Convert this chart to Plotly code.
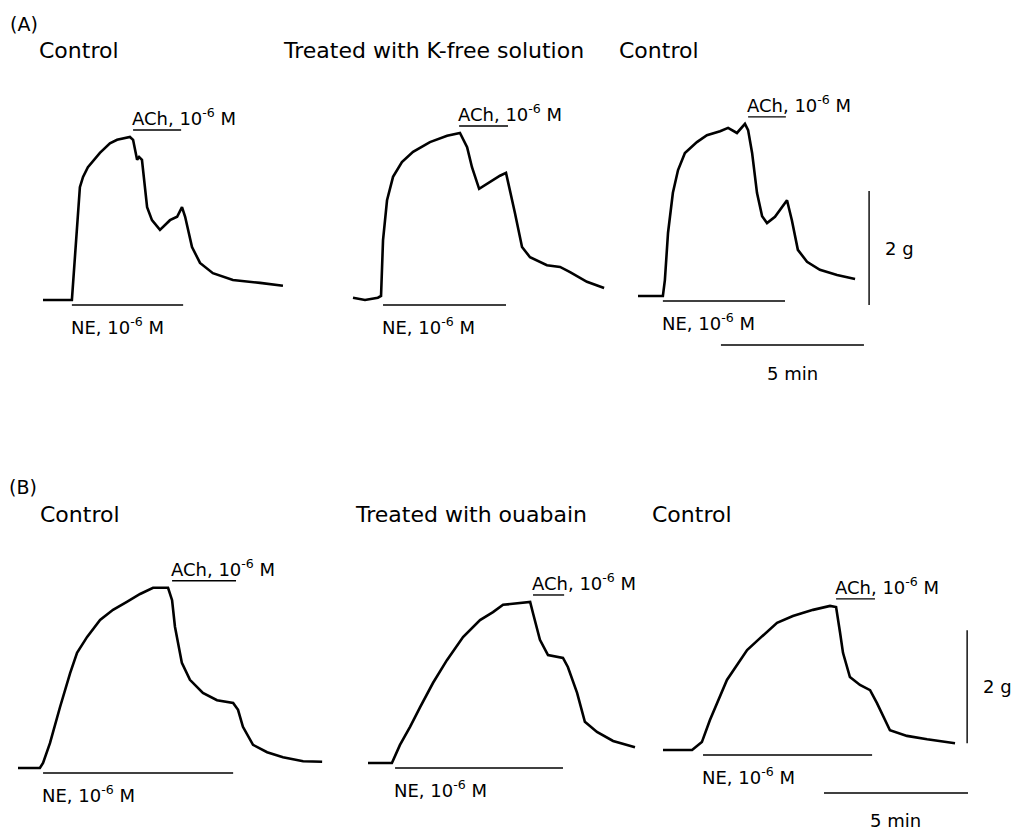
import plotly.graph_objects as go

# ---------------- data (time in min, tension in g above baseline) ----------------
A1_time = [0, 1.01, 1.29, 1.40, 1.57, 1.99, 2.34, 2.59, 3.04, 3.15, 3.29, 3.36, 3.46, 3.64, 3.81,
           4.09, 4.44, 4.69, 4.86, 4.97, 5.21, 5.49, 5.94, 6.64, 7.59, 8.39]
A1_tension = [0, 0, 1.98, 2.16, 2.33, 2.58, 2.75, 2.81, 2.86, 2.81, 2.46, 2.51, 2.46, 1.63, 1.40,
              1.23, 1.40, 1.46, 1.63, 1.46, 0.93, 0.65, 0.47, 0.35, 0.30, 0.25]
A1_NE = [1.01, 4.90]
A1_ACh = [3.15, 4.83]

A2_time = [0, 0.42, 0.87, 0.98, 1.05, 1.19, 1.40, 1.71, 2.10, 2.69, 3.29, 3.74, 3.99, 4.16, 4.41,
           4.79, 5.14, 5.35, 5.49, 5.66, 5.91, 6.19, 6.78, 7.24, 7.59, 8.18, 8.78]
A2_tension = [0.04, 0, 0.04, 0.07, 1.05, 1.75, 2.16, 2.42, 2.60, 2.77, 2.88, 2.93, 2.68, 2.33, 1.95,
              2.07, 2.18, 2.23, 1.93, 1.53, 0.93, 0.75, 0.61, 0.58, 0.49, 0.32, 0.21]
A2_NE = [1.05, 5.35]
A2_ACh = [3.71, 5.42]

A3_time = [0, 0.87, 0.94, 1.05, 1.22, 1.40, 1.64, 2.06, 2.41, 2.87, 3.15, 3.46, 3.74, 3.85, 3.99,
           4.16, 4.34, 4.51, 4.79, 5.21, 5.38, 5.59, 5.91, 6.36, 6.96, 7.59]
A3_tension = [0, 0, 0.28, 1.11, 1.81, 2.21, 2.51, 2.70, 2.82, 2.89, 2.95, 2.86, 3.02, 2.91, 2.51,
              1.81, 1.40, 1.28, 1.39, 1.68, 1.33, 0.81, 0.60, 0.46, 0.37, 0.30]
A3_NE = [0.87, 5.14]
A3_ACh = [3.85, 5.17]

B1_time = [0, 0.76, 0.87, 1.11, 1.46, 1.81, 2.05, 2.40, 2.85, 3.30, 3.78, 4.24, 4.69, 5.21, 5.35,
           5.45, 5.69, 5.97, 6.42, 6.91, 7.47, 7.64, 7.81, 8.16, 8.65, 9.20, 9.90, 10.56]
B1_tension = [0, 0, 0.09, 0.44, 1.08, 1.68, 2.04, 2.32, 2.62, 2.80, 2.94, 3.08, 3.19, 3.19, 2.97,
              2.50, 1.86, 1.56, 1.33, 1.20, 1.15, 1.03, 0.73, 0.41, 0.28, 0.19, 0.12, 0.11]
B1_NE = [0.87, 7.47]
B1_ACh = [5.35, 7.57]

B2_time = [0, 0.83, 1.11, 1.46, 1.81, 2.26, 2.74, 3.30, 3.89, 4.34, 4.69, 5.17, 5.63, 5.73, 5.97,
           6.25, 6.77, 6.94, 7.26, 7.53, 7.95, 8.51, 9.27]
B2_tension = [0, 0, 0.32, 0.64, 0.99, 1.42, 1.82, 2.23, 2.53, 2.67, 2.80, 2.83, 2.85, 2.65, 2.18,
              1.91, 1.86, 1.70, 1.24, 0.73, 0.55, 0.39, 0.28]
B2_NE = [0.94, 6.77]
B2_ACh = [5.73, 6.81]

B3_time = [0, 1.01, 1.35, 1.63, 2.22, 2.92, 3.37, 3.96, 4.51, 5.21, 5.80, 6.01, 6.15, 6.25, 6.49,
           6.84, 7.19, 7.43, 7.88, 8.47, 9.17, 10.14]
B3_tension = [0, 0, 0.14, 0.53, 1.24, 1.77, 1.98, 2.25, 2.37, 2.48, 2.55, 2.53, 2.07, 1.72, 1.29,
              1.15, 1.06, 0.83, 0.35, 0.25, 0.19, 0.12]
B3_NE = [1.39, 7.26]
B3_ACh = [6.01, 7.36]

SCALE_G = 2      # vertical calibration bar (g)
SCALE_MIN = 5    # horizontal calibration bar (min)

NE_LABEL = "NE, 10<sup>-6</sup> M"
ACH_LABEL = "ACh, 10<sup>-6</sup> M"
PANEL_LETTERS = ["(A)", "(B)"]
A_TITLES = ["Control", "Treated with K-free solution", "Control"]
B_TITLES = ["Control", "Treated with ouabain", "Control"]

# ---------------- layout ----------------
W, H = 1018, 831
FONT = "DejaVu Sans"
BIG, SMALL = 22, 18
TRACE_W, BAR_W = 2.6, 1.4

# placement of each trace: pixel origin (start of record, baseline) and px per min / px per g
panels = [
    (A1_time, A1_tension, A1_NE, A1_ACh, (43, 300), (28.6, 57.0)),
    (A2_time, A2_tension, A2_NE, A2_ACh, (353, 300), (28.6, 57.0)),
    (A3_time, A3_tension, A3_NE, A3_ACh, (638, 296), (28.6, 57.0)),
    (B1_time, B1_tension, B1_NE, B1_ACh, (18, 768), (28.8, 56.5)),
    (B2_time, B2_tension, B2_NE, B2_ACh, (368, 763), (28.8, 56.5)),
    (B3_time, B3_tension, B3_NE, B3_ACh, (663, 750), (28.8, 56.5)),
]

fig = go.Figure()
shapes, annotations = [], []
layout_axes = {}

for k, (t, g, ne, ach, (x0, y0), (ppm, ppg)) in enumerate(panels, start=1):
    xa, ya = f"x{k}" if k > 1 else "x", f"y{k}" if k > 1 else "y"
    fig.add_trace(go.Scatter(x=t, y=g, mode="lines", xaxis=xa, yaxis=ya,
                             line=dict(color="black", width=TRACE_W), showlegend=False,
                             hoverinfo="skip"))
    layout_axes[f"xaxis{k if k > 1 else ''}"] = dict(
        domain=[0, 1], range=[-x0 / ppm, (W - x0) / ppm], visible=False, fixedrange=True,
        anchor=ya)
    layout_axes[f"yaxis{k if k > 1 else ''}"] = dict(
        domain=[0, 1], range=[-(H - y0) / ppg, y0 / ppg], visible=False, fixedrange=True,
        anchor=xa)
    ne_y = -5 / ppg
    ach_y = max(g) + 7 / ppg
    shapes.append(dict(type="line", xref=xa, yref=ya, x0=ne[0], x1=ne[1], y0=ne_y, y1=ne_y,
                       line=dict(color="black", width=BAR_W)))
    shapes.append(dict(type="line", xref=xa, yref=ya, x0=ach[0], x1=ach[1], y0=ach_y, y1=ach_y,
                       line=dict(color="black", width=BAR_W)))
    annotations.append(dict(xref=xa, yref=ya, x=ne[0], y=ne_y, text=NE_LABEL, showarrow=False,
                            xanchor="left", yanchor="middle", xshift=-3, yshift=-21,
                            font=dict(family=FONT, size=SMALL, color="black")))
    annotations.append(dict(xref=xa, yref=ya, x=ach[0], y=ach_y, text=ACH_LABEL, showarrow=False,
                            xanchor="left", yanchor="middle", xshift=-3, yshift=13,
                            font=dict(family=FONT, size=SMALL, color="black")))

# calibration bars (in coordinates of the last trace of each row)
for xa, ya, vx, vy0, hx0, hy in [("x3", "y3", 8.08, -0.16, 2.90, -0.86),
                                  ("x6", "y6", 10.56, 0.12, 5.59, -0.76)]:
    shapes.append(dict(type="line", xref=xa, yref=ya, x0=vx, x1=vx, y0=vy0, y1=vy0 + SCALE_G,
                       line=dict(color="black", width=BAR_W)))
    shapes.append(dict(type="line", xref=xa, yref=ya, x0=hx0, x1=hx0 + SCALE_MIN, y0=hy, y1=hy,
                       line=dict(color="black", width=BAR_W)))
    annotations.append(dict(xref=xa, yref=ya, x=vx, y=vy0 + SCALE_G / 2, text=f"{SCALE_G} g",
                            showarrow=False, xanchor="left", yanchor="middle", xshift=14,
                            font=dict(family=FONT, size=SMALL, color="black")))
    annotations.append(dict(xref=xa, yref=ya, x=hx0 + SCALE_MIN / 2, y=hy,
                            text=f"{SCALE_MIN} min", showarrow=False, xanchor="center",
                            yanchor="middle", yshift=-28,
                            font=dict(family=FONT, size=SMALL, color="black")))

# headings (paper pixel positions)
def paper_text(px, py, text, size):
    annotations.append(dict(xref="paper", yref="paper", x=px / W, y=1 - py / H, text=text,
                            showarrow=False, xanchor="left", yanchor="middle",
                            font=dict(family=FONT, size=size, color="black")))

paper_text(8, 24, PANEL_LETTERS[0], 19)
paper_text(7, 487, PANEL_LETTERS[1], 19)
for px, txt in zip([37, 281, 617], A_TITLES):
    paper_text(px, 50, txt, BIG)
for px, txt in zip([38, 353, 650], B_TITLES):
    paper_text(px, 514, txt, BIG)

fig.update_layout(width=W, height=H, margin=dict(l=0, r=0, t=0, b=0),
                  paper_bgcolor="white", plot_bgcolor="rgba(0,0,0,0)",
                  shapes=shapes, annotations=annotations, showlegend=False, **layout_axes)

fig.write_html("out.html", config={"displayModeBar": False},
               post_script="document.body.style.margin='0px';document.body.style.overflow='hidden';")
